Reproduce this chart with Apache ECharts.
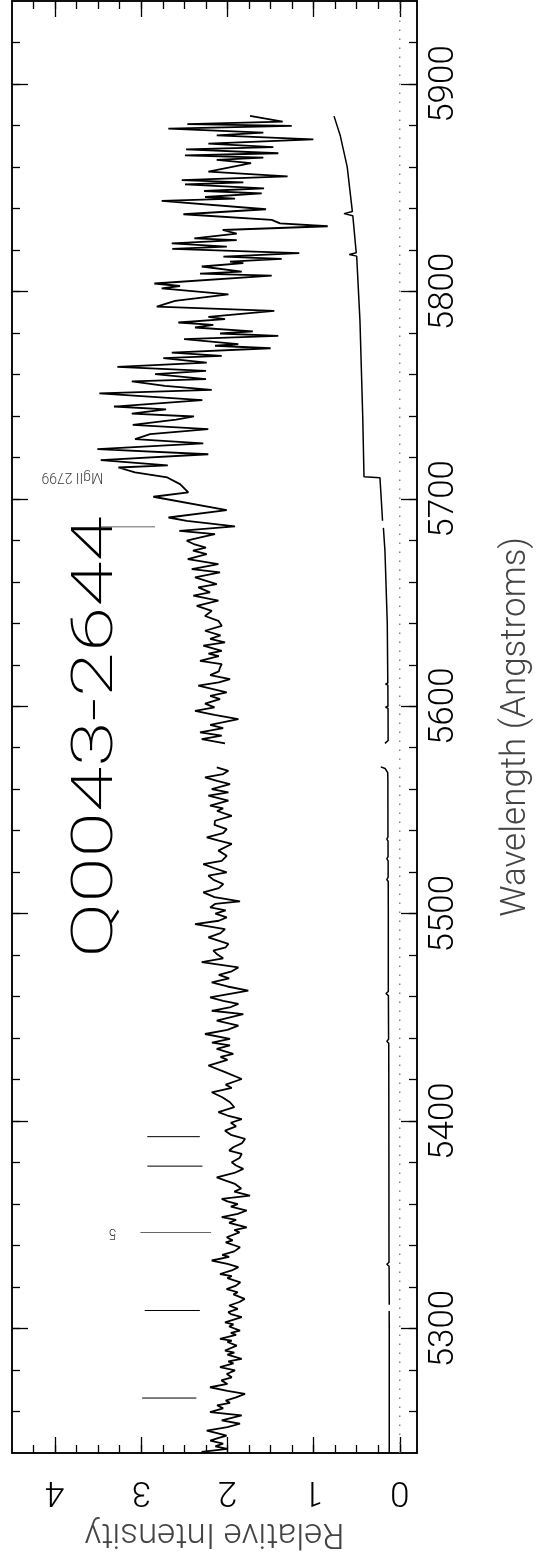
<!DOCTYPE html>
<html><head><meta charset="utf-8">
<script src="https://cdn.jsdelivr.net/npm/echarts@6/dist/echarts.min.js"></script>
<style>html,body{margin:0;padding:0;background:#fff}#c{width:544px;height:1562px}</style>
</head><body><div id="c"></div>
<script>
// ---------- data ----------
const intensityMajor = [0, 1, 2, 3, 4];
const intensityMinor = [0,0.25,0.5,0.75,1,1.25,1.5,1.75,2,2.25,2.5,2.75,3,3.25,3.5,3.75,4,4.25];
const waveMajor = [5300, 5400, 5500, 5600, 5700, 5800, 5900];
const waveMinor = [5260,5280,5300,5320,5340,5360,5380,5400,5420,5440,5460,5480,5500,5520,5540,5560,5580,5600,5620,5640,5660,5680,5700,5720,5740,5760,5780,5800,5820,5840,5860,5880,5900,5920];

const specWaveLow = [5240.5,5242.0,5243.2,5244.5,5246.0,5247.3,5248.4,5249.6,5250.8,5252.5,5254.1,5255.7,5256.9,5258.1,5259.7,5261.5,5263.0,5264.2,5265.3,5266.8,5268.5,5270.0,5271.7,5273.3,5275.0,5276.5,5278.1,5279.8,5281.4,5283.2,5284.2,5285.4,5287.4,5288.4,5289.4,5291.8,5293.5,5294.2,5295.0,5297.0,5297.9,5299.0,5301.0,5302.0,5303.0,5305.5,5307.0,5307.9,5309.5,5311.1,5312.8,5314.3,5316.5,5317.5,5319.0,5320.7,5322.3,5324.3,5325.3,5326.3,5328.0,5329.6,5331.2,5332.8,5334.5,5335.5,5337.2,5339.2,5341.5,5342.5,5344.0,5346.4,5347.5,5348.8,5351.0,5352.4,5353.7,5355.3,5356.9,5358.8,5360.0,5361.3,5362.5,5364.1,5366.0,5367.5,5369.7,5371.3,5372.9,5375.0,5377.0,5378.6,5380.2,5382.2,5384.2,5385.8,5387.4,5389.4,5391.4,5393.4,5395.4,5397.5,5399.2,5401.0,5402.7,5404.3,5406.7,5409.1,5411.5,5413.9,5416.0,5417.6,5420.3,5423.5,5426.8,5429.5,5431.0,5432.4,5434.8,5436.5,5437.8,5439.6,5442.0,5444.0,5446.0,5448.4,5451.6,5453.2,5455.0,5456.5,5458.0,5459.7,5462.9,5464.9,5466.9,5468.8,5470.5,5472.2,5474.1,5476.6,5478.5,5480.6,5482.2,5483.8,5485.4,5488.6,5490.6,5492.6,5495.0,5496.6,5498.2,5500.0,5501.6,5503.0,5504.7,5505.9,5508.0,5510.3,5512.3,5514.3,5516.3,5518.3,5519.9,5521.9,5523.9,5525.5,5527.9,5530.4,5533.6,5535.2,5536.8,5538.8,5540.8,5542.8,5544.8,5547.2,5549.5,5550.8,5552.1,5554.5,5556.9,5558.5,5560.1,5562.5,5564.0,5565.7,5567.3,5568.9,5570.5];
const specFluxLow = [2.30,2.00,2.14,2.05,2.20,2.10,2.01,2.12,2.24,2.00,1.854,2.066,1.95,1.834,2.202,2.05,2.12,1.97,2.02,1.90,1.796,2.00,2.202,2.00,2.07,1.95,2.008,1.912,2.086,1.93,1.99,1.834,2.00,1.92,2.028,1.892,2.00,1.95,2.086,1.90,1.96,1.854,1.98,1.93,2.028,1.834,1.96,1.990,1.88,1.98,1.86,1.80,1.93,1.88,2.01,1.90,1.85,2.00,1.95,2.086,1.95,1.873,2.00,2.182,1.98,2.06,1.92,1.854,2.02,1.94,2.008,1.86,1.92,1.776,1.98,1.90,2.066,1.88,1.776,1.96,1.88,2.00,2.066,1.738,1.92,1.84,1.912,2.02,2.124,1.92,1.816,1.90,1.950,1.86,1.834,1.98,1.932,1.83,1.796,1.96,2.028,1.90,1.96,1.834,2.00,2.105,1.92,1.970,2.06,2.182,1.95,2.02,1.834,2.02,2.221,2.00,2.08,1.932,2.124,1.97,2.18,1.970,2.260,2.00,1.873,2.124,1.816,2.182,1.96,1.873,2.05,2.202,1.758,2.00,2.182,1.98,2.10,1.95,1.873,2.298,2.05,2.124,2.164,2.02,1.989,2.221,2.08,2.028,2.376,2.10,2.008,2.14,2.02,2.20,2.144,1.854,2.15,2.280,2.10,2.048,2.16,2.221,2.008,2.15,2.280,2.066,2.008,2.105,1.950,2.10,2.240,2.05,2.008,2.15,2.144,1.950,2.12,2.05,2.202,1.989,2.221,1.989,2.182,1.970,2.12,2.260,2.05,1.989,2.124];

const specWaveHigh = [5582.1,5584.2,5585.8,5587.4,5589.5,5591.0,5593.8,5595.8,5597.8,5599.5,5601.3,5603.4,5605.0,5606.7,5609.9,5611.5,5613.1,5615.0,5616.8,5618.7,5620.3,5621.9,5624.2,5625.4,5626.7,5629.2,5630.8,5632.5,5634.2,5636.4,5638.8,5641.2,5643.5,5646.0,5648.4,5650.9,5653.3,5654.9,5657.3,5658.9,5662.1,5664.5,5666.1,5668.5,5670.9,5673.3,5675.0,5676.5,5678.0,5679.8,5681.5,5683.0,5684.6,5686.7,5689.4,5691.0,5694.6,5701.0,5703.1,5707.1,5710.3,5712.7,5715.1,5716.1,5718.7,5721.5,5724.0,5726.7,5728.8,5731.2,5733.6,5735.7,5738.2,5739.7,5741.1,5743.1,5744.5,5747.6,5750.8,5752.5,5754.5,5756.6,5757.7,5760.1,5761.7,5763.6,5765.7,5767.8,5768.9,5770.5,5772.6,5773.8,5774.6,5777.0,5778.6,5779.7,5780.7,5782.6,5783.9,5785.0,5786.6,5787.7,5790.6,5792.7,5795.4,5798.6,5801.5,5802.6,5803.8,5807.6,5808.6,5809.5,5812.0,5813.6,5814.4,5815.7,5816.8,5818.5,5820.5,5821.6,5823.2,5824.7,5825.6,5827.9,5829.6,5831.4,5832.8,5834.5,5837.2,5839.6,5843.6,5844.7,5845.5,5847.3,5848.4,5849.7,5851.6,5852.6,5853.6,5855.5,5857.7,5861.8,5863.4,5864.5,5865.6,5866.6,5868.5,5869.6,5871.2,5873.3,5875.2,5876.5,5878.5,5879.8,5880.6,5881.8,5884.6];
const specFluxHigh = [2.028,2.298,2.066,2.318,2.05,2.20,1.873,2.15,2.376,2.15,2.26,2.086,2.20,2.008,2.338,2.10,1.970,2.20,2.10,2.086,2.066,2.318,2.10,2.22,2.066,2.280,2.028,2.20,2.08,2.260,2.066,2.105,2.26,2.182,2.356,2.105,2.396,2.202,2.338,2.124,2.376,2.086,2.414,2.105,2.46,2.240,2.40,2.25,2.38,2.472,2.30,2.144,2.558,1.912,2.472,2.684,2.008,2.860,2.454,2.550,2.698,3.072,3.265,2.692,3.470,2.222,3.509,2.280,3.072,2.898,2.222,3.099,2.596,2.388,3.110,2.712,3.316,2.291,3.486,2.182,2.724,3.110,2.248,2.840,2.248,3.277,2.240,2.744,2.066,2.646,1.498,2.144,1.874,2.503,1.410,2.086,1.705,2.376,2.164,2.570,2.028,2.221,1.456,2.820,2.608,1.989,2.763,2.550,2.848,1.486,2.318,1.834,2.298,1.815,1.970,1.370,2.047,1.166,2.640,2.007,2.646,1.892,2.384,1.892,2.055,0.836,1.389,1.486,2.511,1.552,2.763,1.912,2.260,1.602,2.271,1.575,2.492,1.815,2.530,1.302,2.221,1.726,2.124,1.583,2.492,1.409,2.480,1.467,2.221,1.003,2.124,1.583,2.686,1.254,2.465,1.359,1.738];

// error (sigma) spectrum, in four pieces
const errWave1 = [5240, 5270, 5300, 5308.5];
const errFlux1 = [0.122, 0.122, 0.122, 0.123];
const errWave2 = [5311.5,5330,5331,5332,5380,5437.5,5438.5,5439.5,5460.5,5461.5,5462.5,5500,5515.5,5516.5,5517.5,5525.5,5526.5,5527.5,5535,5536,5537,5565,5568,5570,5570.8];
const errFlux2 = [0.122,0.124,0.15,0.125,0.126,0.128,0.15,0.13,0.132,0.16,0.133,0.133,0.134,0.15,0.135,0.135,0.15,0.136,0.136,0.15,0.137,0.138,0.14,0.17,0.22];
const errWave3 = [5582.1,5583.5,5599,5599.5,5600,5610.2,5610.7,5611.2,5640,5675,5686];
const errFlux3 = [0.172,0.135,0.136,0.165,0.137,0.138,0.165,0.139,0.145,0.172,0.19];
const errWave4 = [5689.4,5700,5710.2,5710.6,5740,5786,5817,5817.8,5818.6,5836.5,5837.5,5838.5,5860,5875,5884.5];
const errFlux4 = [0.2,0.215,0.23,0.415,0.43,0.462,0.5,0.586,0.505,0.545,0.647,0.55,0.61,0.69,0.763];

const zeroWave = [5240, 5940];
const zeroFlux = [0, 0];

// absorption-line markers
const markerWave = [5266.5, 5308.7, 5346.3, 5378.3, 5392.5, 5686.5];
const markerFrom = [2.99, 2.96, 3.01, 2.93, 2.93, 3.47];
const markerTo   = [2.36, 2.32, 2.19, 2.29, 2.32, 2.84];
const markerGreyIdx = [2, 5];

const noteWave = [5346.3, 5710.6];
const noteFlux = [3.33, 3.80];
const noteText = ['5', 'MgII 2799'];

const titleText = 'Q0043-2644';

// ---------- chart ----------
const FONT = 'Roboto';
const zip = (w, f) => w.map((v, i) => [f[i], v]);

function xAx(pos, ticks, len, labels) {
  return {
    type: 'value', min: -0.2, max: 4.5, inverse: true, position: pos,
    axisLine: {show: true, onZero: false, lineStyle: {color: '#000', width: 1.5}},
    axisTick: {show: true, inside: true, length: len, customValues: ticks, lineStyle: {color: '#000', width: 1.3}},
    axisLabel: labels ? {show: true, customValues: ticks, rotate: 180, margin: 20, fontSize: 35, fontFamily: FONT, fontWeight: 300, color: '#000', formatter: v => String(v)} : {show: false},
    splitLine: {show: false},
    name: labels ? 'Relative Intensity' : '', nameLocation: 'middle', nameRotate: 180, nameGap: 62,
    nameTextStyle: {fontSize: 35, fontFamily: FONT, fontWeight: 300, color: '#444'}
  };
}
function yAx(pos, ticks, len, labels) {
  return {
    type: 'value', min: 5240, max: 5940, position: pos,
    axisLine: {show: true, onZero: false, lineStyle: {color: '#000', width: 1.5}},
    axisTick: {show: true, inside: true, length: len, customValues: ticks, lineStyle: {color: '#000', width: 1.3}},
    axisLabel: labels ? {show: true, customValues: ticks, rotate: 90, margin: 10, fontSize: 35, fontFamily: FONT, fontWeight: 300, color: '#000', formatter: v => String(v)} : {show: false},
    splitLine: {show: false},
    name: labels ? 'Wavelength (Angstroms)' : '', nameLocation: 'middle', nameRotate: 90, nameGap: 82,
    nameTextStyle: {fontSize: 35, fontFamily: FONT, fontWeight: 300, color: '#444'}
  };
}

const series = [];
const lineSer = (data, width, color, extra) => Object.assign({
  type: 'line', xAxisIndex: 0, yAxisIndex: 0, data: data, showSymbol: false, symbol: 'none',
  lineStyle: {color: color, width: width}, silent: true, animation: false, z: 3
}, extra || {});

series.push(lineSer(zip(zeroWave, zeroFlux), 1.3, '#777', {lineStyle: {color: '#777', width: 1.3, type: [1.5, 7.5]}}));
series.push(lineSer(zip(specWaveLow, specFluxLow), 1.8, '#000'));
series.push(lineSer(zip(specWaveHigh, specFluxHigh), 1.8, '#000'));
series.push(lineSer(zip(errWave1, errFlux1), 1.5, '#000'));
series.push(lineSer(zip(errWave2, errFlux2), 1.5, '#000'));
series.push(lineSer(zip(errWave3, errFlux3), 1.5, '#000'));
series.push(lineSer(zip(errWave4, errFlux4), 1.5, '#000'));
markerWave.forEach((w, i) => {
  const grey = markerGreyIdx.indexOf(i) >= 0;
  series.push(lineSer([[markerFrom[i], w], [markerTo[i], w]], 1, grey ? '#666' : '#000'));
});
series.push({
  type: 'scatter', xAxisIndex: 0, yAxisIndex: 0, symbolSize: 0, silent: true, animation: false,
  data: noteWave.map((w, i) => ({value: [noteFlux[i], w], name: noteText[i]})),
  label: {show: true, position: 'inside', formatter: p => p.name, rotate: 180,
          fontSize: 14, fontFamily: FONT, fontWeight: 300, color: '#000'}
});

const option = {
  backgroundColor: '#fff',
  animation: false,
  grid: {left: 12, right: 127, top: 1, bottom: 109, containLabel: false},
  xAxis: [
    xAx('bottom', intensityMajor, 16, true),
    xAx('bottom', intensityMinor, 8, false),
    xAx('top', intensityMajor, 16, false),
    xAx('top', intensityMinor, 8, false)
  ],
  yAxis: [
    yAx('right', waveMajor, 16, true),
    yAx('right', waveMinor, 8, false),
    yAx('left', waveMajor, 16, false),
    yAx('left', waveMinor, 8, false)
  ],
  series: series,
  graphic: [{
    type: 'text', x: 97, y: 737, rotation: Math.PI / 2, scaleX: 1.42, scaleY: 1,
    style: {text: titleText, fontSize: 58, fontFamily: FONT, fontWeight: 200, fill: '#000',
            align: 'center', verticalAlign: 'middle', textAlign: 'center', textVerticalAlign: 'middle'}
  }]
};
const chart = echarts.init(document.getElementById('c'), null, {renderer: 'canvas'});
chart.setOption(option);
</script></body></html>
